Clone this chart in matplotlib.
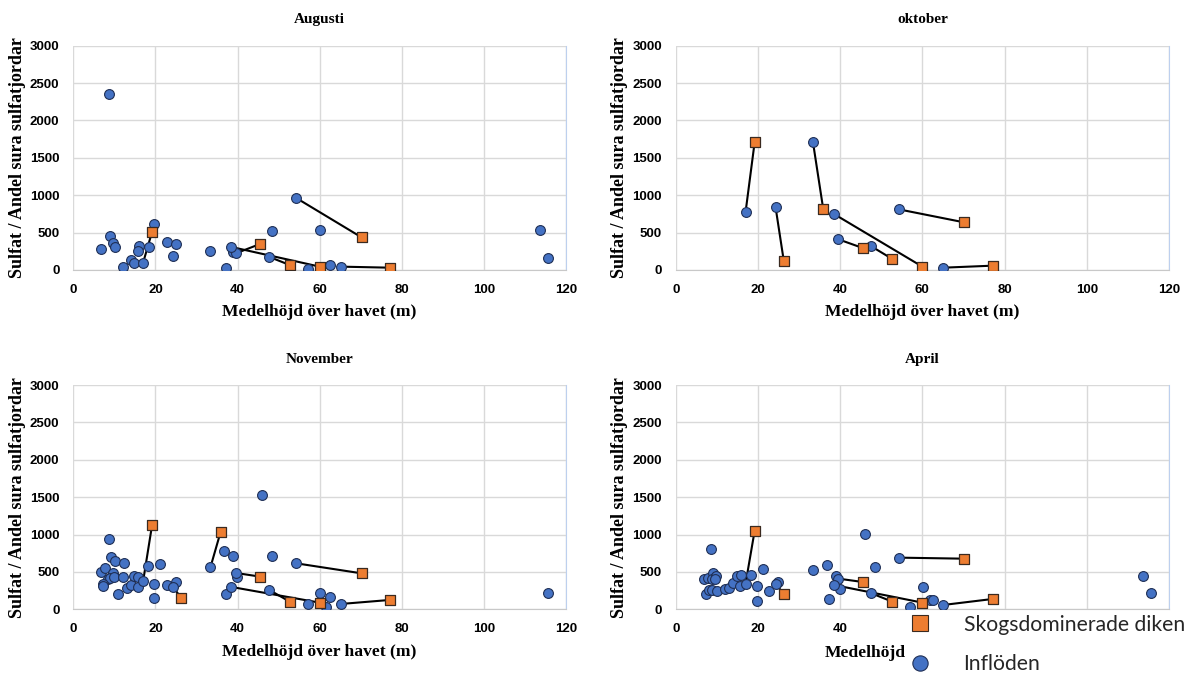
import numpy as np
import matplotlib
matplotlib.use("Agg")
import matplotlib.pyplot as plt
from matplotlib.lines import Line2D

nan = np.nan

# Forest-dominated ditches and the inflow each one is paired with (mean elevation, m)
ditch_elev = [19.2, 26.3, 35.9, 45.5, 52.7, 60.0, 70.2, 77.1]
paired_inflow_elev = [17.0, 24.3, 33.4, 39.6, 47.6, 38.5, 54.3, 65.1]

months = ["Augusti", "oktober", "November", "April"]

ditch_val = {
    "Augusti": [513, nan, nan, 348, 67, 45, 437, 31],
    "oktober": [1707, 120, 811, 294, 147, 45, 637, 58],
    "November": [1131, 151, 1039, 437, 103, 89, 481, 125],
    "April": [1049, 210, nan, 365, 102, 89, 677, 138],
}
paired_inflow_val = {
    "Augusti": [98, 192, 259, 223, 178, 308, 963, 45],
    "oktober": [776, 838, 1707, 410, 316, 749, 811, 31],
    "November": [374, 298, 562, 486, 263, 299, 615, 71],
    "April": [344, 335, 526, 410, 214, 325, 691, 58],
}

# remaining inflows without a paired ditch
other_inflow_elev = {
    "Augusti": [8.7, 8.9, 9.6, 10.1, 6.8, 12.0, 14.0, 14.9, 15.9, 15.8, 18.4, 19.6,
                22.9, 24.9, 37.2, 38.8, 48.3, 57.1, 60.1, 62.6, 113.6, 115.7],
    "oktober": [],
    "November": [8.7, 9.1, 10.1, 12.4, 6.8, 7.8, 9.6, 8.4, 9.0, 9.8, 7.3, 7.3, 12.0,
                 11.0, 13.2, 14.0, 14.9, 15.8, 15.7, 18.3, 19.6, 19.6, 21.2, 22.8,
                 25.0, 36.8, 37.3, 38.9, 39.9, 46.0, 48.3, 57.1, 60.1, 61.6, 62.6,
                 115.7],
    "April": [8.6, 6.8, 7.8, 9.1, 8.8, 9.9, 9.6, 7.3, 8.0, 8.9, 10.0, 12.1, 13.0,
              13.9, 14.8, 15.9, 15.7, 18.3, 19.8, 19.8, 21.2, 22.8, 25.0, 36.9,
              37.4, 38.9, 40.0, 46.0, 48.4, 57.1, 60.1, 61.8, 62.6, 113.7, 115.7],
}
other_inflow_val = {
    "Augusti": [2349, 459, 357, 308, 285, 44, 134, 90, 325, 258, 312, 611,
                370, 348, 31, 237, 521, 17, 535, 67, 535, 156],
    "oktober": [],
    "November": [940, 703, 641, 619, 503, 548, 489, 405, 414, 436, 338, 312, 436,
                 209, 285, 329, 445, 436, 298, 575, 334, 151, 602, 321,
                 365, 776, 201, 718, 432, 1533, 718, 71, 214, 27, 160,
                 223],
    "April": [812, 411, 424, 491, 406, 446, 411, 205, 254, 254, 250, 272, 286,
              348, 442, 460, 308, 460, 317, 112, 540, 250, 362, 588,
              138, 446, 276, 1007, 566, 31, 299, 125, 125, 450, 223],
}

x_ticks = [0, 20, 40, 60, 80, 100, 120]
y_ticks = [0, 500, 1000, 1500, 2000, 2500, 3000]

BLUE = "#4472C4"
ORANGE = "#ED7D31"
SERIF = "Liberation Serif"
SANS = "Liberation Sans"

fig = plt.figure(figsize=(11.93, 6.74), dpi=100)

W, H = 1193, 674
boxes = {  # left, top, right, bottom in pixels
    "Augusti": (73.3, 45.7, 566, 270),
    "oktober": (675.7, 45.7, 1169, 270),
    "November": (73.3, 385, 566, 609.3),
    "April": (675.7, 385, 1169, 609.3),
}


def draw_month(ax, month):
    for xe, xd, ye, yd in zip(paired_inflow_elev, ditch_elev,
                              paired_inflow_val[month], ditch_val[month]):
        if not (np.isnan(ye) or np.isnan(yd)):
            ax.plot([xe, xd], [ye, yd], color="black", lw=1.5, zorder=2)
    ax.scatter(other_inflow_elev[month] + paired_inflow_elev,
               other_inflow_val[month] + paired_inflow_val[month],
               s=50, marker="o", color=BLUE, edgecolor="#1F2F55", linewidth=0.8,
               zorder=3)
    ax.scatter(ditch_elev, ditch_val[month], s=50, marker="s", color=ORANGE,
               edgecolor="#3A2A20", linewidth=0.9, zorder=4)

    ax.set_xlim(0, 120)
    ax.set_ylim(0, 3000)
    ax.set_xticks(x_ticks)
    ax.set_yticks(y_ticks)
    ax.tick_params(length=0, labelsize=9.5, pad=10)
    for lbl in ax.get_xticklabels() + ax.get_yticklabels():
        lbl.set_fontfamily(SANS)
        lbl.set_fontweight("bold")
    ax.grid(True, color="#D9D9D9", lw=1.0)
    ax.set_axisbelow(True)
    for side in ("top", "left"):
        ax.spines[side].set_visible(False)
    ax.spines["bottom"].set_color("#C8C8C8")
    ax.spines["right"].set_color("#BDD0EE")

    ax.set_title(month, fontfamily=SERIF, fontweight="bold", fontsize=11, pad=16)
    ax.set_xlabel("Medelhöjd över havet (m)", fontfamily=SERIF, fontweight="bold",
                  fontsize=12.6, labelpad=6)
    ax.set_ylabel("Sulfat / Andel sura sulfatjordar", fontfamily=SERIF,
                  fontweight="bold", fontsize=13, labelpad=3)


axes = {}
for month in months:
    l, t, r, b = boxes[month]
    ax = fig.add_axes([l / W, 1 - b / H, (r - l) / W, (b - t) / H])
    draw_month(ax, month)
    axes[month] = ax

# the legend occupies the lower right corner, so April keeps only the
# first tick labels and the start of its axis title
ax = axes["April"]
ax.set_xticklabels([str(v) if v < 60 else "" for v in x_ticks],
                   fontfamily=SANS, fontweight="bold")
ax.set_xlabel("Medelhöjd", fontfamily=SERIF, fontweight="bold", fontsize=12.6,
              ha="left")
ax.xaxis.set_label_coords(0.303, -0.158)

handles = [
    Line2D([], [], marker="s", ls="none", markersize=11, color=ORANGE,
           markeredgecolor="#3A2A20", markeredgewidth=0.8),
    Line2D([], [], marker="o", ls="none", markersize=11, color=BLUE,
           markeredgecolor="#1F2F55", markeredgewidth=0.8),
]
leg = fig.legend(handles, ["Skogsdominerade diken", "Inflöden"],
                 loc="upper left", bbox_to_anchor=(897 / W, 1 - 604 / H),
                 frameon=False, prop={"family": "Lato", "size": 15.2},
                 labelspacing=0.92, handlelength=1.2, handletextpad=1.45,
                 borderpad=0)
for txt in leg.get_texts():
    txt.set_color("#262626")

fig.savefig("out.png", dpi=100)
